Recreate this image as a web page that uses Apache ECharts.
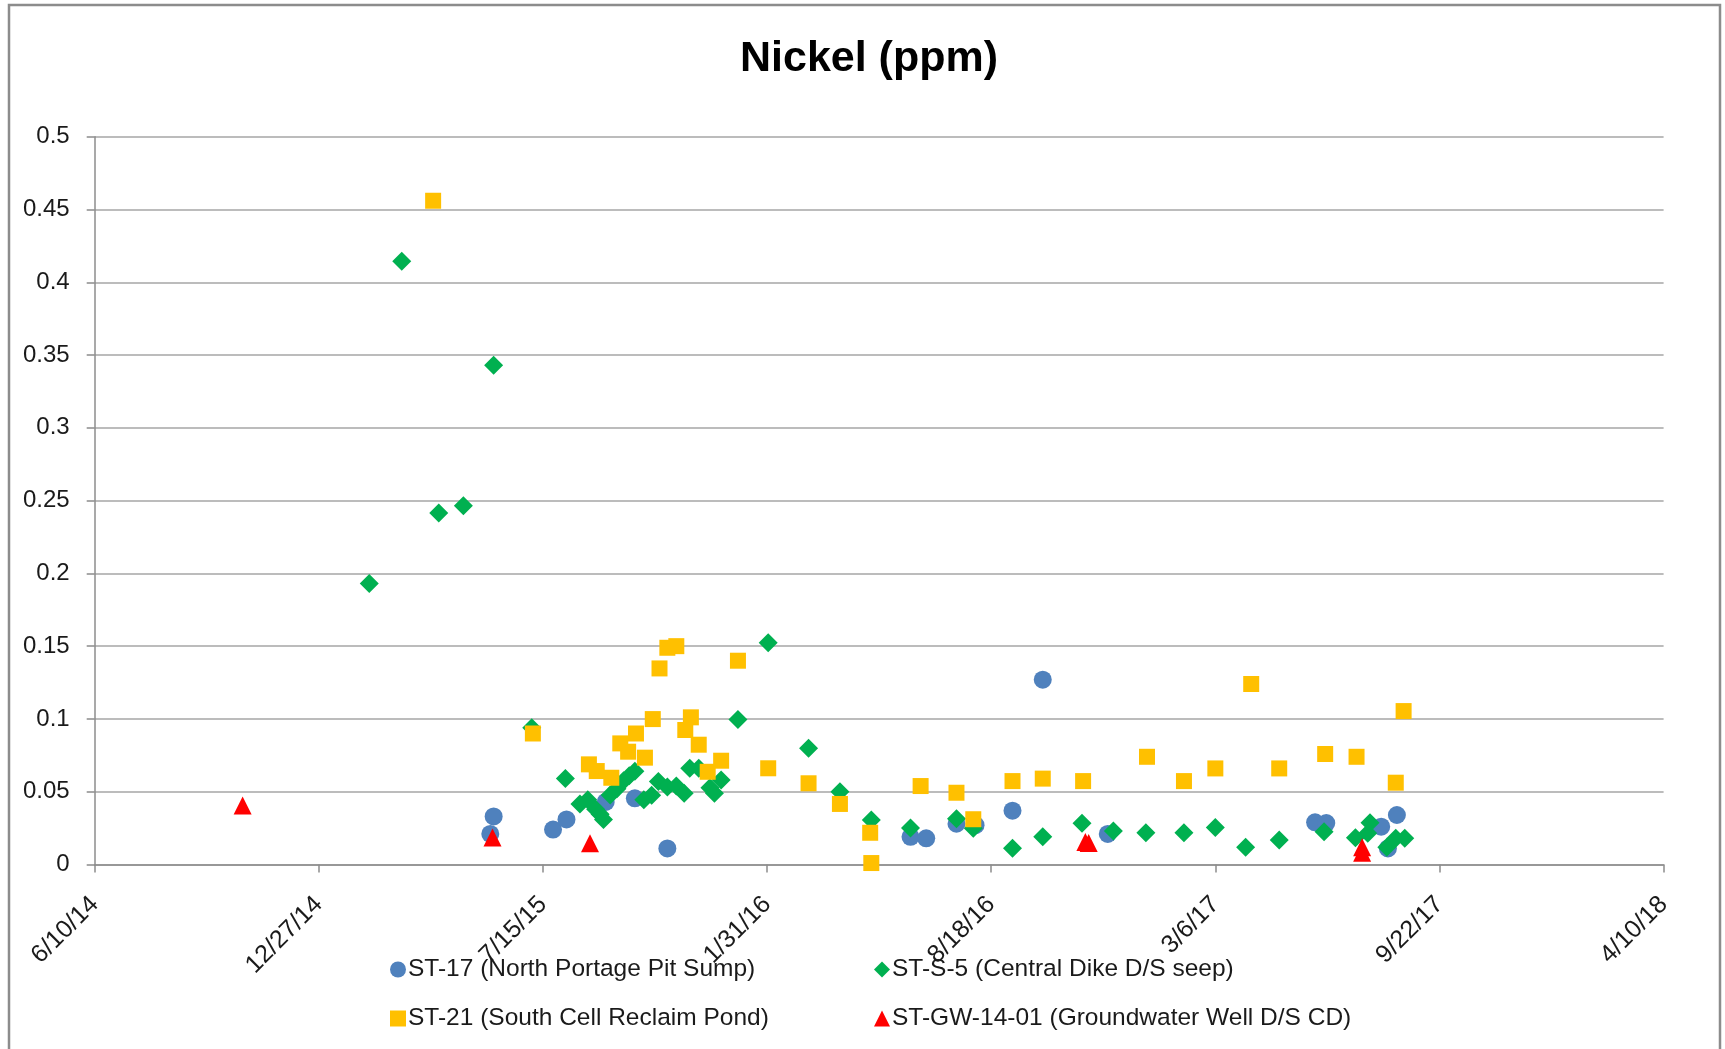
<!DOCTYPE html>
<html><head><meta charset="utf-8">
<script src="https://cdn.jsdelivr.net/npm/echarts@6/dist/echarts.min.js"></script>
<style>html,body{margin:0;padding:0;background:#fff}#c{width:1725px;height:1049px}</style>
</head><body><div id="c"></div>
<script>
const chartTitle = 'Nickel (ppm)';
const seriesNames = ['ST-17 (North Portage Pit Sump)', 'ST-S-5 (Central Dike D/S seep)', 'ST-21 (South Cell Reclaim Pond)', 'ST-GW-14-01 (Groundwater Well D/S CD)'];

const st17Dates = ['2015-05-29','2015-06-01','2015-07-24','2015-08-05','2015-09-09','2015-10-05','2015-11-03','2016-06-07','2016-06-21','2016-07-18','2016-08-04','2016-09-06','2016-10-03','2016-11-30','2017-06-03','2017-06-13','2017-08-01','2017-08-07','2017-08-15'];
const st17Values = [0.021,0.033,0.024,0.031,0.043,0.0455,0.011,0.019,0.018,0.028,0.027,0.037,0.127,0.021,0.029,0.0285,0.026,0.011,0.034];

const sts5Dates = ['2015-02-10','2015-03-11','2015-04-13','2015-05-05','2015-06-01','2015-07-05','2015-08-04','2015-08-17','2015-08-24','2015-08-31','2015-09-04','2015-09-07','2015-09-13','2015-09-19','2015-09-25','2015-09-30','2015-10-05','2015-10-13','2015-10-20','2015-10-26','2015-11-03','2015-11-11','2015-11-18','2015-11-23','2015-12-01','2015-12-11','2015-12-15','2015-12-21','2016-01-05','2016-02-01','2016-03-08','2016-04-05','2016-05-03','2016-06-07','2016-07-18','2016-08-02','2016-09-06','2016-10-03','2016-11-07','2016-12-05','2017-01-03','2017-02-06','2017-03-06','2017-04-02','2017-05-02','2017-06-11','2017-07-09','2017-07-20','2017-07-22','2017-08-06','2017-08-14','2017-08-22'];
const sts5Values = [0.193,0.4145,0.2415,0.2465,0.343,0.094,0.059,0.0415,0.0445,0.038,0.0345,0.031,0.0477,0.052,0.0575,0.061,0.064,0.0445,0.0475,0.057,0.0533,0.054,0.049,0.0662,0.0662,0.0528,0.049,0.058,0.0997,0.1523,0.0798,0.05,0.0306,0.025,0.0314,0.0249,0.0111,0.0191,0.0283,0.023,0.0218,0.0218,0.0255,0.0118,0.0168,0.0225,0.0184,0.0214,0.0287,0.0118,0.018,0.018];

const st21Dates = ['2015-04-08','2015-07-06','2015-08-25','2015-09-01','2015-09-14','2015-09-22','2015-09-29','2015-10-06','2015-10-14','2015-10-21','2015-10-27','2015-11-03','2015-11-11','2015-11-19','2015-11-24','2015-12-01','2015-12-09','2015-12-21','2016-01-05','2016-02-01','2016-03-08','2016-04-05','2016-05-02','2016-05-03','2016-06-16','2016-07-18','2016-08-02','2016-09-06','2016-10-03','2016-11-08','2017-01-04','2017-02-06','2017-03-06','2017-04-07','2017-05-02','2017-06-12','2017-07-10','2017-08-14','2017-08-21'];
const st21Values = [0.456,0.09,0.0688,0.0642,0.0596,0.0832,0.0775,0.09,0.0734,0.0999,0.1347,0.1489,0.15,0.0924,0.1011,0.0823,0.0637,0.0713,0.14,0.0661,0.0558,0.0416,0.0218,0.001,0.0539,0.0493,0.0311,0.0573,0.059,0.0573,0.074,0.0573,0.066,0.124,0.066,0.0759,0.074,0.0562,0.1054];

const gwDates = ['2014-10-20','2015-05-31','2015-08-26','2016-11-10','2016-11-13','2017-07-15','2017-07-15'];
const gwValues = [0.0405,0.0185,0.0146,0.0155,0.0148,0.0118,0.0081];

const xAxisStart = '2014-06-10';
const xAxisEnd = '2018-04-10';
const xTickDays = 200;
const yMin = 0, yMax = 0.5, yStep = 0.05;

const DAY = 86400000;
const EXCEL_EPOCH = Date.UTC(1899, 11, 30);
function toSerial(s) {
  const p = s.split('-').map(Number);
  return Math.round((Date.UTC(p[0], p[1] - 1, p[2]) - EXCEL_EPOCH) / DAY);
}
function fmtSerial(v) {
  const d = new Date(EXCEL_EPOCH + v * DAY);
  return (d.getUTCMonth() + 1) + '/' + d.getUTCDate() + '/' + String(d.getUTCFullYear()).slice(2);
}
function pairs(dates, vals) { return dates.map((d, i) => [toSerial(d), vals[i]]); }

const FONT = '"Liberation Sans", Arial, sans-serif';
const colors = ['#4F81BD', '#00B050', '#FFC000', '#FF0000'];
const symbols = ['circle', 'diamond', 'rect', 'triangle'];
const sizes = [18, 19, 16, 18];
const dataSets = [pairs(st17Dates, st17Values), pairs(sts5Dates, sts5Values), pairs(st21Dates, st21Values), pairs(gwDates, gwValues)];

const legendPos = [[390, 957], [874, 957], [390, 1006], [874, 1006]];

const chart = echarts.init(document.getElementById('c'), null, { renderer: 'canvas' });
chart.setOption({
  animation: false,
  backgroundColor: '#ffffff',
  title: {
    text: chartTitle, left: 864, top: 33, textAlign: 'center',
    textStyle: { fontFamily: FONT, fontWeight: 'bold', fontSize: 43, color: '#000' }
  },
  graphic: [{
    type: 'rect', silent: true, z: -1,
    shape: { x: 9, y: 5, width: 1711, height: 1200 },
    style: { fill: null, stroke: '#8C8C8C', lineWidth: 2.5 }
  }],
  grid: { left: 94.7, right: 61.4, top: 136.7, bottom: 184.5 },
  xAxis: {
    type: 'value', min: toSerial(xAxisStart), max: toSerial(xAxisEnd), interval: xTickDays,
    axisLine: { show: true, onZero: false, lineStyle: { color: '#8C8C8C', width: 1.5 } },
    axisTick: { show: true, length: 8, lineStyle: { color: '#8C8C8C', width: 1.5 } },
    splitLine: { show: false },
    axisLabel: { rotate: 45, margin: 36, formatter: fmtSerial, fontFamily: FONT, fontSize: 25, color: '#1a1a1a', showMinLabel: true, showMaxLabel: true }
  },
  yAxis: {
    type: 'value', min: yMin, max: yMax, interval: yStep,
    axisLine: { show: true, lineStyle: { color: '#8C8C8C', width: 1.5 } },
    axisTick: { show: true, length: 8, lineStyle: { color: '#8C8C8C', width: 1.5 } },
    splitLine: { show: true, lineStyle: { color: '#A6A6A6', width: 1.5 } },
    axisLabel: { margin: 25, fontFamily: FONT, fontSize: 24, color: '#1a1a1a' }
  },
  legend: seriesNames.map((n, i) => ({
    data: [n], left: legendPos[i][0], top: legendPos[i][1], padding: 0,
    icon: symbols[i], itemWidth: 16, itemHeight: 16,
    textStyle: { fontFamily: FONT, fontSize: 24.5, lineHeight: 24, color: '#1a1a1a', padding: [0, 0, 0, -3] },
    selectedMode: false
  })),
  series: seriesNames.map((n, i) => ({
    name: n, type: 'scatter', symbol: symbols[i], symbolSize: sizes[i],
    itemStyle: { color: colors[i], opacity: 1 },
    data: dataSets[i], z: 2 + i
  }))
});
</script></body></html>
